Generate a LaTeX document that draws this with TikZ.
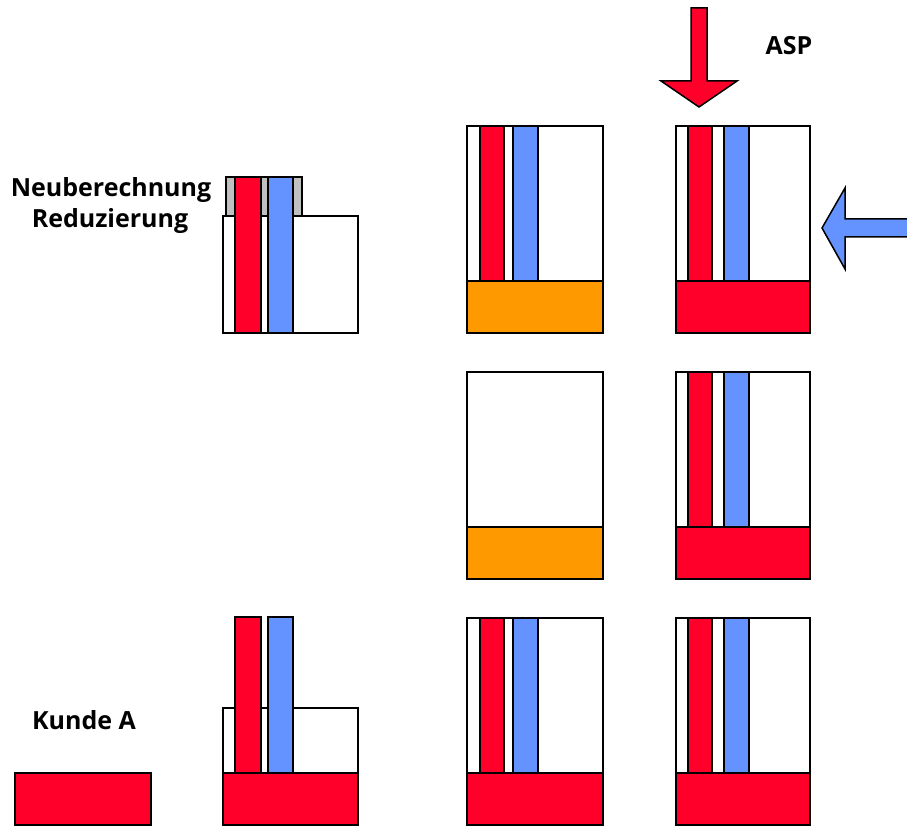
\documentclass[tikz,border=0pt]{standalone}
\usepackage{fontspec}
\setmainfont{Open Sans}
\definecolor{cred}{RGB}{255,0,43}
\definecolor{cblue}{RGB}{100,146,255}
\definecolor{corange}{RGB}{255,153,0}
\definecolor{cgray}{RGB}{192,192,192}
\tikzset{
  frame/.style={draw=black, line width=1.5pt, fill=white},
  redbar/.style={frame, fill=cred},
  bluebar/.style={frame, fill=cblue},
  orangebar/.style={frame, fill=corange},
  graybar/.style={frame, fill=cgray},
  lbl/.style={font=\bfseries\fontsize{25}{29}\selectfont, inner sep=0pt, anchor=base}
}
\begin{document}
\begin{tikzpicture}[x=1pt,y=1pt,yscale=-1,xscale=1]
\useasboundingbox (0,0) rectangle (907,826);
\clip (0,0) rectangle (907,826);

%Shape: Neuberechnung group
\draw [graybar] (226,177) rectangle (302,216) ;
\draw [frame] (223,216) rectangle (358,333) ;
\draw [redbar] (235,177) rectangle (261,333) ;
\draw [bluebar] (268,177) rectangle (293,333) ;

%Shape: middle column, top
\draw [frame] (467,126) rectangle (603,333) ;
\draw [redbar] (480,126) rectangle (504,281) ;
\draw [bluebar] (513,126) rectangle (538,281) ;
\draw [orangebar] (467,281) rectangle (603,333) ;

%Shape: right column, top
\draw [frame] (676,126) rectangle (810,333) ;
\draw [redbar] (688,126) rectangle (712,281) ;
\draw [bluebar] (724,126) rectangle (749,281) ;
\draw [redbar] (676,281) rectangle (810,333) ;

%Shape: middle column, middle
\draw [frame] (467,372) rectangle (603,579) ;
\draw [orangebar] (467,527) rectangle (603,579) ;

%Shape: right column, middle
\draw [frame] (676,372) rectangle (810,579) ;
\draw [redbar] (688,372) rectangle (712,527) ;
\draw [bluebar] (724,372) rectangle (749,527) ;
\draw [redbar] (676,527) rectangle (810,579) ;

%Shape: Kunde A
\draw [redbar] (15,773) rectangle (151,825) ;

%Shape: bottom row, second
\draw [frame] (223,708) rectangle (358,773) ;
\draw [redbar] (235,617) rectangle (261,773) ;
\draw [bluebar] (268,617) rectangle (293,773) ;
\draw [redbar] (223,773) rectangle (358,825) ;

%Shape: middle column, bottom
\draw [frame] (467,618) rectangle (603,825) ;
\draw [redbar] (480,618) rectangle (504,773) ;
\draw [bluebar] (513,618) rectangle (538,773) ;
\draw [redbar] (467,773) rectangle (603,825) ;

%Shape: right column, bottom
\draw [frame] (676,618) rectangle (810,825) ;
\draw [redbar] (688,618) rectangle (712,773) ;
\draw [bluebar] (724,618) rectangle (749,773) ;
\draw [redbar] (676,773) rectangle (810,825) ;

%Shape: ASP arrow
\draw [redbar, line join=miter] (691,8) -- (707,8) -- (707,81) -- (737,81) -- (699,107) -- (661,81) -- (691,81) -- cycle ;
%Shape: side arrow
\draw [bluebar, line join=miter] (915,219) -- (845,219) -- (845,188) -- (822,228) -- (845,269) -- (845,237) -- (915,237) -- cycle ;

% Text Node
\node [lbl] (asp) at (789,55) {ASP};
% Text Node
\node [lbl] (neu) at (111,197) {Neuberechnung};
% Text Node
\node [lbl] (red) at (110,228) {Reduzierung};
% Text Node
\node [lbl] (kunde) at (84,729) {Kunde A};

\end{tikzpicture}
\end{document}
